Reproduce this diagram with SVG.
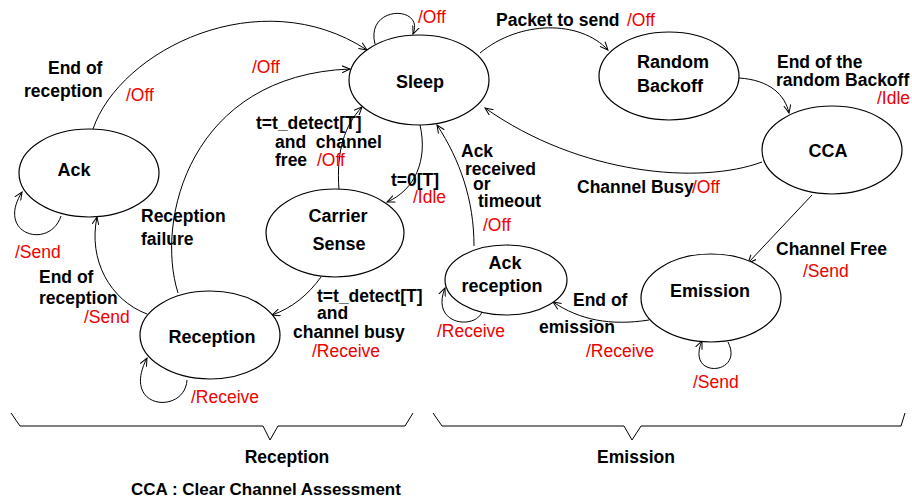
<svg xmlns="http://www.w3.org/2000/svg" width="912" height="499" viewBox="0 0 912 499">
<defs>
<marker id="arr" markerWidth="10" markerHeight="8" refX="8" refY="4" orient="auto" markerUnits="userSpaceOnUse">
<path d="M0,0.5 L8,4 L0,7.5" fill="none" stroke="#000" stroke-width="1"/>
</marker>
<style>
.n{fill:#fff;stroke:#000;stroke-width:1.2}
.c{fill:none;stroke:#000;stroke-width:1;marker-end:url(#arr)}
.b{fill:none;stroke:#000;stroke-width:1}
.t{font-family:"Liberation Sans",Arial,sans-serif;font-weight:bold;font-size:18px;fill:#000}
.l{font-family:"Liberation Sans",Arial,sans-serif;font-weight:bold;font-size:17.5px;fill:#000}
.r{font-family:"Liberation Sans",Arial,sans-serif;font-size:17.5px;fill:#e00}
.m{text-anchor:middle}
</style>
</defs>
<rect width="912" height="499" fill="#fff"/>

<g id="connectors">
<path class="c" d="M93,129 C120,50 260,-20 367,50"/>
<path class="c" d="M178,293 C155,220 190,75 350,69"/>
<path class="c" d="M375,44 C365,5 425,5 413,34"/>
<path class="c" d="M480,53 C520,20 580,20 608,50"/>
<path class="c" d="M739,78 C770,80 785,95 789,113"/>
<path class="c" d="M762,162 C700,185 580,175 485,108"/>
<path class="c" d="M812,195 L748,263"/>
<path class="c" d="M649,320 C610,326 580,320 553,302"/>
<path class="c" d="M474,246 C474,200 460,160 437,125"/>
<path class="c" d="M420,125 C428,160 415,190 387,202"/>
<path class="c" d="M339,190 C336,150 345,125 362,107"/>
<path class="c" d="M321,277 C308,295 292,308 272,315"/>
<path class="c" d="M147,314 C110,300 88,260 97,217"/>
<path class="c" d="M61,216 C50,250 -5,235 22,192"/>
<path class="c" d="M187,380 C185,415 120,410 147,358"/>
<path class="c" d="M482,312 C475,330 430,325 445,288"/>
<path class="c" d="M728,342 C745,375 685,380 702,341"/>
</g>

<g id="sleep"><ellipse class="n" cx="419" cy="80" rx="70" ry="45"/><text class="t m" x="420" y="88">Sleep</text></g>
<g id="random-backoff"><ellipse class="n" cx="669" cy="76" rx="70" ry="44"/><text class="t" x="637" y="68">Random</text><text class="t" x="637" y="92">Backoff</text></g>
<g id="cca"><ellipse class="n" cx="832" cy="150" rx="70" ry="44"/><text class="t m" x="828" y="157">CCA</text></g>
<g id="ack"><ellipse class="n" cx="89" cy="173" rx="70" ry="44"/><text class="t m" x="74" y="176">Ack</text></g>
<g id="carrier-sense"><ellipse class="n" cx="335" cy="233" rx="69" ry="44"/><text class="t m" x="338" y="222">Carrier</text><text class="t m" x="339" y="250">Sense</text></g>
<g id="reception"><ellipse class="n" cx="210" cy="335" rx="70" ry="44"/><text class="t m" x="212" y="343">Reception</text></g>
<g id="ack-reception"><ellipse class="n" cx="506" cy="280" rx="61" ry="35"/><text class="t m" x="505" y="269">Ack</text><text class="t m" x="502" y="292">reception</text></g>
<g id="emission"><ellipse class="n" cx="711" cy="298" rx="70" ry="44"/><text class="t m" x="710" y="297">Emission</text></g>

<g id="labels">
<text class="l" x="48" y="74">End of</text>
<text class="l" x="24" y="97">reception</text>
<text class="r" x="126" y="101">/Off</text>
<text class="r" x="252" y="73">/Off</text>
<text class="r" x="418" y="23">/Off</text>
<text class="l" x="256" y="129">t=t_detect[T]</text>
<text class="l" x="275" y="148" xml:space="preserve">and  channel</text>
<text class="l" x="275" y="166">free</text>
<text class="r" x="317" y="166">/Off</text>
<text class="l" x="391" y="186">t=0[T]</text>
<text class="r" x="413" y="203">/Idle</text>
<text class="l" x="461" y="157">Ack</text>
<text class="l" x="465" y="175">received</text>
<text class="l" x="473" y="190">or</text>
<text class="l" x="478" y="207">timeout</text>
<text class="r" x="483" y="231">/Off</text>
<text class="l" x="496" y="26">Packet to send</text>
<text class="r" x="627" y="26">/Off</text>
<text class="l" x="777" y="68">End of the</text>
<text class="l" x="776" y="86">random Backoff</text>
<text class="r" x="877" y="104">/Idle</text>
<text class="l" x="577" y="193">Channel Busy</text>
<text class="r" x="692" y="193">/Off</text>
<text class="l" x="776" y="255">Channel Free</text>
<text class="r" x="803" y="277">/Send</text>
<text class="l" x="573" y="306">End of</text>
<text class="l" x="539" y="333">emission</text>
<text class="r" x="586" y="357">/Receive</text>
<text class="r" x="437" y="337">/Receive</text>
<text class="r" x="693" y="388">/Send</text>
<text class="l" x="141" y="222">Reception</text>
<text class="l" x="141" y="245">failure</text>
<text class="r" x="15" y="258">/Send</text>
<text class="l" x="39" y="283">End of</text>
<text class="l" x="39" y="304">reception</text>
<text class="r" x="84" y="323">/Send</text>
<text class="l" x="317" y="302">t=t_detect[T]</text>
<text class="l" x="317" y="319">and</text>
<text class="l" x="293" y="338">channel busy</text>
<text class="r" x="312" y="357">/Receive</text>
<text class="r" x="191" y="403">/Receive</text>
</g>

<g id="braces">
<path class="b" d="M11,413 L20,426 L263,426 L270,440 L278,426 L405,426 L413,413"/>
<path class="b" d="M433,413 L442,426 L624,426 L632,440 L641,426 L901,426 L905,413"/>
<text class="l m" x="287" y="463">Reception</text>
<text class="l m" x="636" y="463">Emission</text>
<text class="l" x="131" y="495" style="font-size:17px">CCA : Clear Channel Assessment</text>
</g>
</svg>
